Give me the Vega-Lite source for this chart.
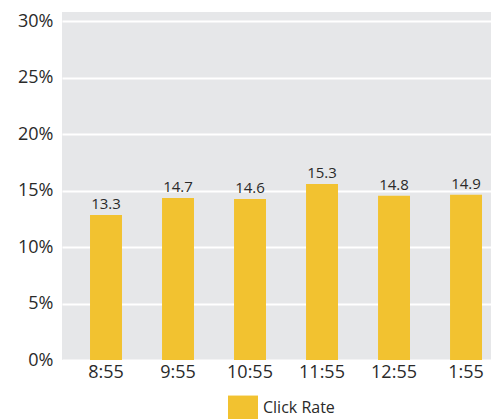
{
  "$schema": "https://vega.github.io/schema/vega-lite/v6.json",
  "width": 429,
  "height": 348,
  "autosize": {"type": "none"},
  "padding": {"left": 62, "top": 12, "right": 0, "bottom": 59},
  "background": "white",
  "config": {
    "view": {"stroke": null, "fill": "#E6E7E9"},
    "font": "Open Sans",
    "axis": {"domain": false, "ticks": false, "labelColor": "#2a2a2a", "labelFont": "Open Sans", "labelFontSize": 18, "title": null}
  },
  "data": {
    "values": [
      {"time": "8:55", "rate": 12.83, "label": "13.3", "series": "Click Rate"},
      {"time": "9:55", "rate": 14.34, "label": "14.7", "series": "Click Rate"},
      {"time": "10:55", "rate": 14.25, "label": "14.6", "series": "Click Rate"},
      {"time": "11:55", "rate": 15.58, "label": "15.3", "series": "Click Rate"},
      {"time": "12:55", "rate": 14.54, "label": "14.8", "series": "Click Rate"},
      {"time": "1:55", "rate": 14.63, "label": "14.9", "series": "Click Rate"}
    ]
  },
  "encoding": {
    "x": {
      "field": "time",
      "type": "nominal",
      "sort": null,
      "scale": {"paddingInner": 0.556, "paddingOuter": 0.257, "align": 0.757},
      "axis": {"labelAngle": 0, "labelPadding": 3, "grid": false}
    },
    "y": {
      "field": "rate",
      "type": "quantitative",
      "scale": {"domain": [0, 30.8], "nice": false, "zero": true},
      "axis": {"values": [0, 5, 10, 15, 20, 25, 30], "labelExpr": "datum.value + '%'", "labelPadding": 9, "grid": true, "gridColor": "white", "gridWidth": 2, "gridOpacity": 1}
    }
  },
  "layer": [
    {
      "mark": {"type": "bar"},
      "encoding": {
        "color": {
          "field": "series",
          "type": "nominal",
          "scale": {"range": ["#F2C230"]},
          "legend": {
            "orient": "none",
            "legendX": 166,
            "legendY": 381,
            "title": null,
            "symbolType": "M-1,-0.83H1V0.83H-1Z",
            "symbolSize": 900,
            "symbolStrokeWidth": 0,
            "symbolOpacity": 1,
            "labelFontSize": 16,
            "labelFont": "Open Sans",
            "labelColor": "#2a2a2a",
            "labelOffset": 5,
            "padding": 0
          }
        }
      }
    },
    {
      "mark": {"type": "text", "baseline": "bottom", "dy": -3, "fontSize": 15, "color": "#2a2a2a", "font": "Open Sans"},
      "encoding": {"text": {"field": "label"}}
    }
  ]
}
